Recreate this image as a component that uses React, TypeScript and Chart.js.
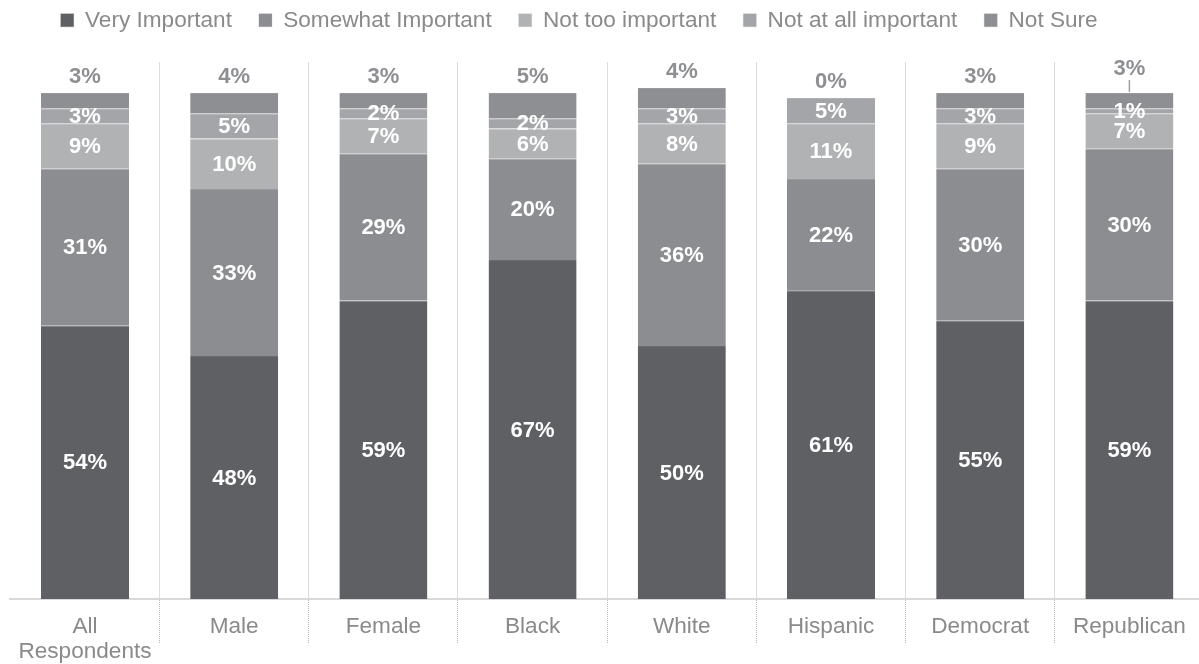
import React, { useEffect, useRef } from 'react';
import { Chart, registerables } from 'chart.js';

Chart.register(...registerables);

const categories: (string | string[])[] = [
  ['All', 'Respondents'],
  'Male',
  'Female',
  'Black',
  'White',
  'Hispanic',
  'Democrat',
  'Republican',
];
const seriesNames = ['Very Important', 'Somewhat Important', 'Not too important', 'Not at all important', 'Not Sure'];
const veryImportant = [54, 48, 59, 67, 50, 61, 55, 59];
const somewhatImportant = [31, 33, 29, 20, 36, 22, 30, 30];
const notTooImportant = [9, 10, 7, 6, 8, 11, 9, 7];
const notAtAllImportant = [3, 5, 2, 2, 3, 5, 3, 1];
const notSure = [3, 4, 3, 5, 4, 0, 3, 3];
const seriesColors = ['#5f6064', '#8c8d91', '#b1b2b4', '#a4a5a8', '#8e8f93'];
const seriesEdge = ['#6a6b6f', '#9a9b9e', '#bcbdbf', '#afb0b3', '#98999c'];

const FONT = '"Liberation Sans", Arial, Helvetica, sans-serif';

const segLabels = {
  id: 'segLabels',
  afterLayout(chart: any) {
    const lg = chart.legend;
    if (lg) lg.right -= 56;
  },
  afterDatasetsDraw(chart: any) {
    const ctx = chart.ctx;
    ctx.save();
    ctx.font = `bold 22px ${FONT}`;
    ctx.textAlign = 'center';
    ctx.textBaseline = 'middle';
    const n = chart.data.datasets.length;
    chart.data.datasets.forEach((ds: any, di: number) => {
      const meta = chart.getDatasetMeta(di);
      meta.data.forEach((el: any, i: number) => {
        const v = ds.data[i];
        const text = `${v}%`;
        const { x, y, base } = el.getProps(['x', 'y', 'base'], true);
        if (di < n - 1) {
          ctx.fillStyle = '#ffffff';
          ctx.fillText(text, x, (y + base) / 2 + 1);
        } else {
          const below = chart.data.datasets[di - 1].data[i];
          ctx.fillStyle = '#8e8f93';
          if (below <= 1) {
            ctx.fillText(text, x, y - 24);
            ctx.strokeStyle = '#a0a0a0';
            ctx.lineWidth = 1.5;
            ctx.beginPath();
            ctx.moveTo(x, y - 13);
            ctx.lineTo(x, y - 1);
            ctx.stroke();
          } else {
            ctx.fillText(text, x, y - 16);
          }
        }
      });
    });
    ctx.restore();
  },
};

export default function App() {
  const ref = useRef<HTMLCanvasElement>(null);
  useEffect(() => {
    Chart.defaults.font.family = FONT;
    const values = [veryImportant, somewhatImportant, notTooImportant, notAtAllImportant, notSure];
    const nCat = categories.length;
    const gridColor = (c: any) => (c.index === 0 || c.index >= nCat ? 'rgba(0,0,0,0)' : '#b9b9b9');
    const chart = new Chart(ref.current as HTMLCanvasElement, {
      type: 'bar',
      data: {
        labels: categories as any,
        datasets: seriesNames.map((name, i) => ({
          label: name,
          data: values[i],
          backgroundColor: seriesColors[i],
          borderColor: seriesEdge[i],
          borderWidth: { top: 1, bottom: 0, left: 0, right: 0 },
          borderSkipped: false,
          categoryPercentage: 1,
          barPercentage: 0.59,
        })),
      },
      options: {
        animation: false,
        responsive: true,
        maintainAspectRatio: false,
        layout: { padding: { top: -18, left: 10.4, right: 0, bottom: 0 } },
        plugins: {
          legend: {
            position: 'top',
            labels: {
              boxWidth: 13,
              boxHeight: 13,
              padding: 27,
              color: '#8a8a8a',
              font: { size: 22.6 },
            },
          },
          title: {
            display: true,
            text: ' ',
            padding: 0,
            font: { size: 10, lineHeight: 2.1 },
            color: 'rgba(0,0,0,0)',
            weight: 1,
          } as any,
          tooltip: { enabled: false },
        },
        scales: {
          x: {
            stacked: true,
            afterFit: (axis: any) => {
              axis.height = 65;
            },
            grid: {
              offset: true,
              color: gridColor,
              tickColor: gridColor,
              lineWidth: 1,
              tickLength: 44,
              tickBorderDash: [1, 1],
            } as any,
            border: { display: true, color: '#d9d9d9', width: 2, dash: [1, 1] },
            ticks: {
              color: '#8a8a8a',
              font: { size: 22.6, lineHeight: 1.08 },
              padding: -28,
              maxRotation: 0,
              autoSkip: false,
            },
          },
          y: { stacked: true, display: false, min: 0, max: 106 },
        },
      },
      plugins: [segLabels],
    });
    return () => chart.destroy();
  }, []);
  return (
    <div style={{ position: 'absolute', left: 0, top: 0, width: 1199, height: 664, overflow: 'hidden' }}>
      <div style={{ position: 'relative', width: 1204, height: 664 }}>
        <canvas ref={ref} />
      </div>
    </div>
  );
}
